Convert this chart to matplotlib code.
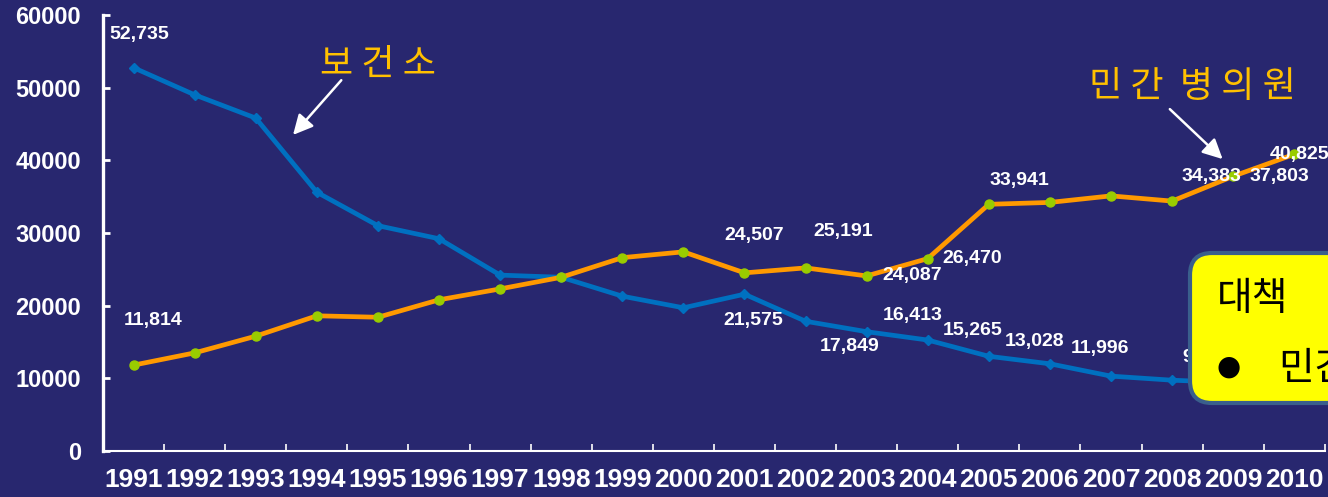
import matplotlib
matplotlib.use('Agg')
import matplotlib.pyplot as plt
from matplotlib.patches import FancyBboxPatch
from matplotlib.transforms import IdentityTransform

plt.rcParams['font.family'] = ['Liberation Sans', 'Noto Sans CJK KR', 'DejaVu Sans']

# 데이터
years = [str(y) for y in range(1991, 2011)]
health_center = [52735, 49000, 45800, 35600, 31000, 29200, 24200, 23900, 21300, 19700,
                 21575, 17849, 16413, 15265, 13028, 11996, 10300, 9740, 9400, 9100]
private_clinic = [11814, 13500, 15800, 18600, 18400, 20800, 22300, 23900, 26600, 27400,
                  24507, 25191, 24087, 26470, 33941, 34200, 35100, 34383, 37803, 40825]
yticks = [0, 10000, 20000, 30000, 40000, 50000, 60000]

# 표시할 데이터 라벨 (인덱스, 오프셋 pt)
hc_labels = {0: (4, 24), 10: (6, -19), 11: (32, -18), 12: (33, 12), 13: (32, 7),
             14: (33, 11), 15: (36, 11), 17: (25, 16)}
pc_labels = {0: (14, 32), 10: (7, 27), 11: (27, 26), 12: (33, 0), 13: (32, 0),
             14: (22, 17), 17: (28, 18), 18: (33, 0), 19: (4, 0)}

bg = '#28276F'
fig = plt.figure(figsize=(13.28, 4.97), dpi=100, facecolor=bg)
ax = fig.add_axes([0.0776, 0.0926, 0.92, 0.8774])
ax.set_facecolor(bg)

x = list(range(len(years)))
ax.plot(x, health_center, color='#0070C0', lw=3.4, marker='D', ms=5,
        mfc='#0070C0', mec='#0070C0', zorder=3)
ax.plot(x, private_clinic, color='#FF9900', lw=3.4, marker='o', ms=6.5,
        mfc='#99CC00', mec='#99CC00', zorder=4)

for i, (dx, dy) in hc_labels.items():
    ax.annotate(f'{health_center[i]:,}', (x[i], health_center[i]), xytext=(dx, dy),
                textcoords='offset points', ha='center', va='center',
                color='white', fontsize=14, fontweight='bold', zorder=6)
for i, (dx, dy) in pc_labels.items():
    ax.annotate(f'{private_clinic[i]:,}', (x[i], private_clinic[i]), xytext=(dx, dy),
                textcoords='offset points', ha='center', va='center',
                color='white', fontsize=14, fontweight='bold', zorder=6)

# 화살표 주석
ax.annotate('', xy=(2.58, 43200), xytext=(3.43, 51300),
            arrowprops=dict(arrowstyle='-|>', color='white', lw=1.8, mutation_scale=30))
ax.text(4.0, 53100, '보 건 소', color='#FFC000', fontsize=26, ha='center', va='center',
        family=['Noto Sans CJK KR'])
ax.annotate('', xy=(17.86, 39900), xytext=(16.93, 47300),
            arrowprops=dict(arrowstyle='-|>', color='white', lw=1.8, mutation_scale=30))
ax.text(17.34, 50100, '민 간  병 의 원', color='#FFC000', fontsize=26, ha='center',
        va='center', family=['Noto Sans CJK KR'])

ax.set_xlim(-0.5, len(years) - 0.5)
ax.set_ylim(0, 60000)
ax.set_xticks(x)
ax.set_xticklabels(years, fontsize=19, fontweight='bold', color='white')
ax.set_xticks([i - 0.5 for i in range(len(years) + 1)], minor=True)
ax.tick_params(axis='x', which='major', length=0, pad=12)
ax.tick_params(axis='x', which='minor', direction='in', length=5, width=1.2, color='white')
ax.set_yticks(yticks)
ax.set_yticklabels([str(v) for v in yticks], fontsize=17, fontweight='bold', color='white')
ax.tick_params(axis='y', direction='in', length=5, width=2, color='white', pad=16)

for s in ['top', 'right']:
    ax.spines[s].set_visible(False)
ax.spines['left'].set_color('white')
ax.spines['left'].set_linewidth(2.4)
ax.spines['bottom'].set_color('white')
ax.spines['bottom'].set_linewidth(1.5)

# 범례 상자 (잘린 형태)
box = FancyBboxPatch((1190, 94), 200, 150, boxstyle='round,pad=0,rounding_size=22',
                     transform=IdentityTransform(), facecolor='#FFFF00',
                     edgecolor='#3A5F8C', lw=3, zorder=10)
fig.add_artist(box)
fig.text(1217 / 1328, 198 / 497, '대책', fontsize=28, color='black', ha='left', va='center',
         family=['Noto Sans CJK KR'], zorder=11)
fig.text(1229 / 1328, 130 / 497, '●', fontsize=20, color='black', ha='center', va='center',
         family=['DejaVu Sans'], zorder=11)
fig.text(1279 / 1328, 128 / 497, '민간 병의원', fontsize=28, color='black', ha='left',
         va='center', family=['Noto Sans CJK KR'], zorder=11)

fig.savefig('out.png', dpi=100, facecolor=bg)
